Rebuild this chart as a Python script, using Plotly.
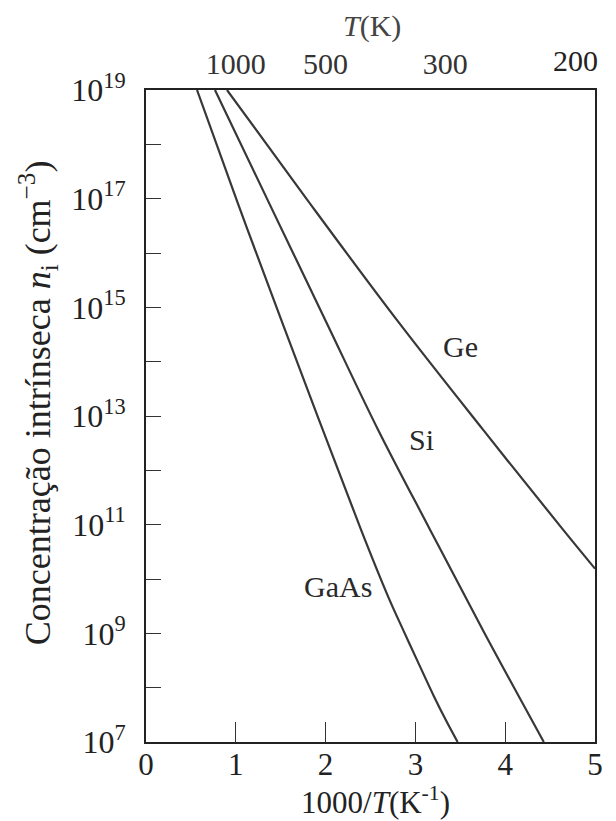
import math
import plotly.graph_objects as go

# 1000/T (K^-1) and intrinsic carrier concentration n_i (cm^-3)
gaas_x = [0.568, 1.013, 1.526, 2.394, 2.695, 2.862, 3.029, 3.207, 3.352, 3.47]
gaas_n = [1e19, 9.1e16, 4.8e14, 8.1e10, 4.8e9, 1.17e9, 2.95e8, 6.9e7, 2.3e7, 1e7]

si_x = [0.768, 1.359, 2.004, 2.584, 3.163, 3.764, 4.43]
si_n = [1e19, 9.1e16, 5.5e14, 5.6e12, 8.1e10, 1.05e9, 1e7]

ge_x = [0.902, 1.804, 2.806, 3.753, 4.644, 5.0]
ge_n = [1e19, 9.1e16, 5.5e14, 5.6e12, 8.1e10, 1.55e10]

series_names = ["GaAs", "Si", "Ge"]
label_x = [2.14, 3.07, 3.50]
label_n = [7.2e9, 3.7e12, 1.9e14]

x_ticks = [0, 1, 2, 3, 4, 5]
y_exps = list(range(7, 20))
top_T = [1000, 500, 300, 200]

FONT = "Liberation Serif"
LINE = "#383838"

fig = go.Figure()
for xs, ns, name in [(gaas_x, gaas_n, "GaAs"), (si_x, si_n, "Si"), (ge_x, ge_n, "Ge")]:
    fig.add_trace(go.Scatter(x=xs, y=ns, mode="lines", name=name,
                             line=dict(color=LINE, width=2.2, shape="spline", smoothing=1.0),
                             showlegend=False, hoverinfo="skip"))

# invisible trace to activate the top axis
fig.add_trace(go.Scatter(x=[0, 5], y=[1e7, 1e7], xaxis="x2", yaxis="y", mode="lines",
                         line=dict(width=0), showlegend=False, hoverinfo="skip"))

for name, lx, ln in zip(series_names, label_x, label_n):
    fig.add_annotation(x=lx, y=math.log10(ln), text=name, showarrow=False,
                       font=dict(family=FONT, size=30, color="#2a2a2a"))

ytext = [f"10<sup>{e}</sup>" if e % 2 == 1 else "" for e in y_exps]

# top axis: the last label (200 K) sits at the right edge and is drawn as an annotation
top_vals = [1000 / t for t in top_T[:-1]]
top_text = [str(t) for t in top_T[:-1]]

fig.update_layout(
    width=608, height=813,
    margin=dict(l=138, r=21, t=82, b=79),
    paper_bgcolor="white", plot_bgcolor="white",
    font=dict(family=FONT, size=30, color="#222"),
    xaxis=dict(range=[0, 5], tickvals=x_ticks, ticktext=[str(v) for v in x_ticks],
               ticks="inside", ticklen=20, tickwidth=1.2, tickcolor="#333",
               showline=True, linecolor="#222", linewidth=1.8, mirror=False,
               showgrid=False, zeroline=False, tickfont=dict(size=31),
               ticklabelstandoff=-6),
    xaxis2=dict(range=[0, 5], overlaying="x", side="top",
                tickvals=top_vals, ticktext=top_text,
                ticks="", showline=True, linecolor="#222", linewidth=1.8,
                showgrid=False, zeroline=False, tickfont=dict(size=30, color="#333"),
                ticklabelstandoff=2),
    yaxis=dict(type="log", range=[7, 19], tickvals=[10 ** e for e in y_exps], ticktext=ytext,
               ticks="inside", ticklen=15, tickwidth=1.2, tickcolor="#333",
               showline=True, linecolor="#222", linewidth=1.8, mirror=True,
               showgrid=False, zeroline=False, tickfont=dict(size=32),
               ticklabelstandoff=12),
)

fig.add_annotation(xref="paper", yref="paper", x=1.012, xanchor="right", y=1.045, yanchor="middle",
                   text=str(top_T[-1]), showarrow=False,
                   font=dict(family=FONT, size=30, color="#222"))
fig.add_annotation(xref="paper", yref="paper", x=0.512, y=-0.089, yanchor="middle",
                   text="1000/<i>T</i>(K<sup>-1</sup>)", showarrow=False,
                   font=dict(family=FONT, size=31, color="#222"))
fig.add_annotation(xref="paper", yref="paper", x=0.503, y=1.098, yanchor="middle",
                   text="<i>T</i>(K)", showarrow=False,
                   font=dict(family=FONT, size=30, color="#444"))
fig.add_annotation(xref="paper", yref="paper", x=-0.24, y=0.52, xanchor="center",
                   text="Concentração intrínseca <i>n</i><sub>i</sub> (cm<sup>−3</sup>)",
                   textangle=-90, showarrow=False,
                   font=dict(family=FONT, size=36, color="#222"))

fig.write_html("out.html")
